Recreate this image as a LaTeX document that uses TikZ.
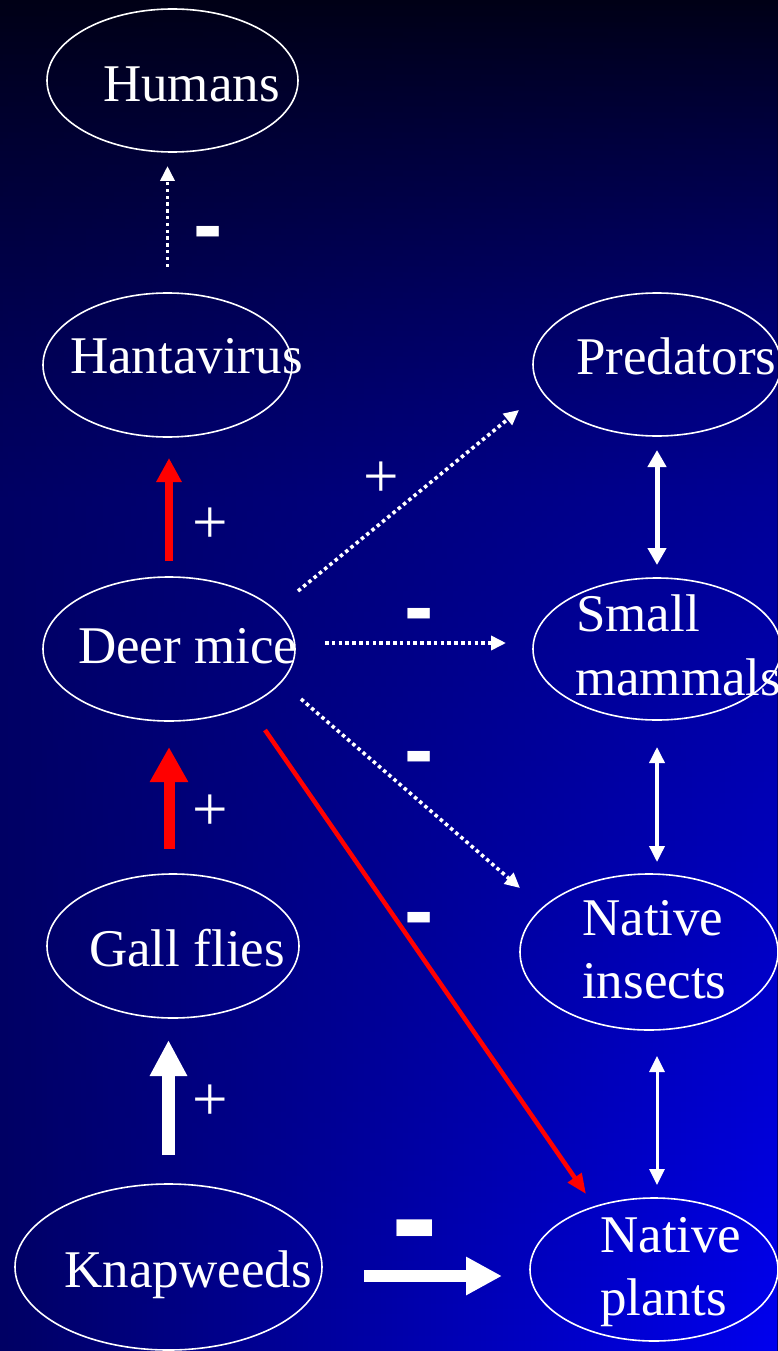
\documentclass[tikz,border=0pt]{standalone}
\usepackage{fontspec}
\setmainfont{Liberation Serif}
\newfontfamily\arialf{Liberation Sans}
\usetikzlibrary{shapes.geometric,arrows.meta,fadings}
\definecolor{bgA}{RGB}{0,0,22}
\definecolor{bgB}{RGB}{0,0,100}
\definecolor{bgM}{RGB}{0,0,200}
\definecolor{bgC}{RGB}{0,0,240}
\definecolor{redarr}{RGB}{255,0,0}
\tikzfading[name=vfade, top color=transparent!100, middle color=transparent!55, bottom color=transparent!0]
\newcommand\lblfont{\fontsize{53}{62}\selectfont}
\newcommand\plusfont{\fontsize{63}{70}\selectfont}
\newcommand\minusfont{\arialf\bfseries\fontsize{88}{90}\selectfont}
\newcommand\bigminusfont{\arialf\bfseries\fontsize{140}{140}\selectfont}
\begin{document}
\begin{tikzpicture}[x=1pt,y=-1pt,
  ell/.style={draw=white, line width=1.6pt, ellipse, inner sep=0pt, outer sep=0pt},
  lbl/.style={text=white, font=\lblfont, anchor=base west, inner sep=0pt},
  pl/.style={text=white, font=\plusfont, anchor=base, inner sep=0pt},
  mn/.style={text=white, font=\minusfont, anchor=base, inner sep=0pt},
  dotarr/.style={white, line width=3.6pt, dash pattern=on 3.5pt off 3.3pt, -{Triangle[length=15pt,width=14pt]}},
  dblarr/.style={white, {Triangle[length=16pt,width=15pt]}-{Triangle[length=16pt,width=15pt]}}
]
\useasboundingbox (0,0) rectangle (778,1351);
% background
\shade[top color=bgA, bottom color=bgB] (0,0) rectangle (778,500);
\fill[bgB] (0,499.5) rectangle (778,1351);
\shade[left color=bgB, middle color=bgM, right color=bgC, path fading=vfade] (0,0) rectangle (778,1351);

% ellipses
\node[ell, minimum width=251pt, minimum height=143pt] (humans) at (172.5,80.5) {};
\node[ell, minimum width=249pt, minimum height=144pt] (hanta) at (167.5,365) {};
\node[ell, minimum width=248pt, minimum height=143pt] (pred) at (657,364.5) {};
\node[ell, minimum width=252pt, minimum height=144pt] (deer) at (169,649) {};
\node[ell, minimum width=248pt, minimum height=142pt] (small) at (657,649) {};
\node[ell, minimum width=252pt, minimum height=144pt] (gall) at (173,946) {};
\node[ell, minimum width=258pt, minimum height=156pt] (insects) at (649,952) {};
\node[ell, minimum width=307pt, minimum height=166pt] (knap) at (168.5,1267) {};
\node[ell, minimum width=248pt, minimum height=143pt] (plants) at (654,1269.5) {};

% texts
\node[lbl] (tHumans) at (103,102) {Humans};
\node[lbl] (tHanta) at (70,373) {Hantavirus};
\node[lbl] (tPred) at (576,374) {Predators};
\node[lbl] (tDeer) at (78,663) {Deer mice};
\node[lbl] (tSmallA) at (576,631) {Small};
\node[lbl] (tSmallB) at (575,695) {mammals};
\node[lbl] (tGall) at (89,966) {Gall flies};
\node[lbl] (tInsA) at (582,935) {Native};
\node[lbl] (tInsB) at (582,998) {insects};
\node[lbl] (tKnap) at (64.5,1287) {Knapweeds};
\node[lbl] (tPlaA) at (600,1252) {Native};
\node[lbl] (tPlaB) at (600,1315) {plants};

% left column arrows
\draw[dotarr, shorten <=26pt, shorten >=14pt] (hanta.north) -- (hanta.north |- humans.south);
\draw[redarr, line width=8pt, -{Triangle[length=24pt,width=24pt]}, shorten <=16pt, shorten >=21pt] (deer.north) -- (deer.north |- hanta.south);
\draw[redarr, line width=11pt, -{Triangle[length=35pt,width=36pt]}, shorten <=25pt, shorten >=26pt] (deer.south |- gall.north) -- (deer.south);
\draw[white, line width=12.5pt, -{Triangle[length=36pt,width=35pt]}, shorten <=29pt, shorten >=22pt] (knap.north) -- (knap.north |- gall.south);

% Knapweeds -> Native plants
\coordinate (kpy) at (0,1276);
\draw[white, line width=12pt, -{Triangle[length=36pt,width=36pt]}, shorten <=42pt, shorten >=28pt] (knap.east |- kpy) -- (plants.west |- kpy);

% deer mice dotted arrows
\coordinate (dPa) at (298,591);
\coordinate (dPb) at (519,410);
\coordinate (dSa) at (325,643);
\coordinate (dSb) at (506,643);
\coordinate (dIa) at (301,699);
\coordinate (dIb) at (520,888);
\draw[dotarr] (dPa) -- (dPb);
\draw[dotarr] (dSa) -- (dSb);
\draw[dotarr] (dIa) -- (dIb);

% red diagonal
\coordinate (dRa) at (265,730);
\coordinate (dRb) at (586,1194);
\draw[redarr, line width=4.5pt, -{Triangle[length=20pt,width=16pt]}] (dRa) -- (dRb);

% right column double arrows
\draw[white, line width=5pt, {Triangle[length=17pt,width=18pt]}-{Triangle[length=17pt,width=18pt]}, shorten <=14pt, shorten >=13pt] (pred.south) -- (small.north);
\draw[dblarr, line width=3.5pt, shorten <=27pt, shorten >=12pt] (small.south) -- (small.south |- insects.north);
\draw[dblarr, line width=3pt, shorten <=26pt, shorten >=13pt] (small.south |- insects.south) -- (small.south |- plants.north);

% signs
\node[mn] (mHum) at (208.5,254.5) {-};
\node[pl] (pHanta) at (210,543.5) {+};
\node[pl] (pDeer) at (210,830) {+};
\node[pl] (pGall) at (210,1120.5) {+};
\node[pl] (pPred) at (381,497) {+};
\node[mn] (mSmall) at (419,636) {-};
\node[mn] (mIns) at (419,779.5) {-};
\node[mn] (mPla) at (419,940) {-};
\node[text=white, font=\bigminusfont, anchor=base, inner sep=0pt] (mKnap) at (415,1264.5) {-};
\end{tikzpicture}
\end{document}
